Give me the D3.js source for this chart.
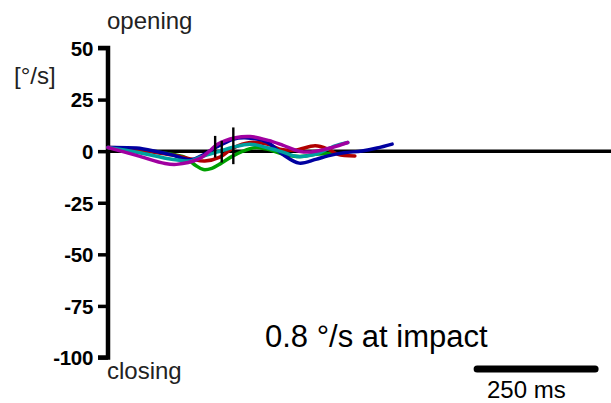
<!DOCTYPE html>
<html><head><meta charset="utf-8">
<script src="https://cdn.jsdelivr.net/npm/d3@7"></script>
<style>body{margin:0;background:#fff}svg{display:block}text{font-family:"Liberation Sans",Arial,sans-serif}</style>
</head><body><svg id="c" width="611" height="403"></svg>
<script>
// time (ms) and angular velocity (°/s) per trial
const seriesNames = ["green","red","blue","cyan","purple"];
const seriesColors = ["#00a000","#b00000","#0000a0","#00a0a0","#a000a0"];
const greenT = [0,64,120,163,185,202,220,240,265,301,315,337,371,407,439,481];
const greenV = [1.8,0.5,-1,-3,-6.8,-8.9,-8.3,-5.8,-2.3,1.2,1.8,1,-1.5,-2.6,-1.5,-1];
const redT = [0,60,100,148,178,205,237,265,301,337,364,396,439,466,487,523];
const redV = [1.8,1,-0.6,-2.3,-3.9,-4.8,-2.9,1.5,4.2,3.4,1,0.5,2.6,1,-1.5,-2.3];
const blueT = [0,60,100,135,175,200,230,265,290,337,370,405,440,466,500,538,570,602];
const blueV = [1.8,1.5,0,-1.8,-4.2,-2,2,5.8,6.5,4.4,-1.5,-5.8,-4,-2.3,-0.8,0.1,1.5,3.4];
const cyanT = [0,64,135,175,195,230,265,301,340,371,400,439,481,508];
const cyanV = [1.8,-0.6,-3.9,-4.7,-2.9,-0.5,1.9,3.4,1.5,-0.5,-2.6,-1.5,2.6,4.2];
const purpleT = [0,64,121,145,191,215,232,270,301,340,371,405,430,475,508];
const purpleV = [1.8,-2.3,-6,-6.4,-3.9,0,3.4,6.5,7.1,5.2,2.8,0,-0.4,1.8,4.2];
const seriesT = [greenT,redT,blueT,cyanT,purpleT];
const seriesV = [greenV,redV,blueV,cyanV,purpleV];
// impact markers: time, low value, high value
const markerT = [227,241,265.5];
const markerLo = [-3.1,-5.5,-6.3];
const markerHi = [7.4,5,11.5];
const yTicks = [50,25,0,-25,-50,-75,-100];
const scaleBarMs = 250;
const scaleBarStart = 782;

const svg = d3.select("#c");
const x = d3.scaleLinear().domain([0,1000]).range([108,580]);
const y = d3.scaleLinear().domain([-100,50]).range([357.5,48]);

// y axis
const yAxis = d3.axisLeft(y).tickValues(yTicks).tickSize(10).tickPadding(5).tickFormat(d=>String(d));
const ga = svg.append("g").attr("transform","translate(108,0)").call(yAxis);
ga.select(".domain").attr("stroke","#000").attr("stroke-width",4.5).attr("d","M-10,"+y(50)+"H0V"+y(-100)+"H-10");
ga.selectAll(".tick line").attr("stroke","#000").attr("stroke-width",3.5);
ga.selectAll(".tick text").attr("fill","#000").attr("dy","0.36em").style("font-size","20.5px").style("font-weight","bold").style("letter-spacing","-0.3px").style("font-family","'Liberation Sans',Arial,sans-serif");

// zero line
svg.append("line").attr("x1",x(0)).attr("x2",611).attr("y1",y(0)).attr("y2",y(0)).attr("stroke","#000").attr("stroke-width",3.5);

// curves
const line = d3.line().x(d=>x(d[0])).y(d=>y(d[1])).curve(d3.curveCatmullRom.alpha(0.5));
seriesT.forEach((ts,i)=>{
  const pts = ts.map((t,j)=>[t,seriesV[i][j]]);
  svg.append("path").attr("d",line(pts)).attr("fill","none").attr("stroke",seriesColors[i]).attr("stroke-width",3.5).attr("stroke-linecap","round");
});

// markers
markerT.forEach((t,i)=>{
  svg.append("line").attr("x1",x(t)).attr("x2",x(t)).attr("y1",y(markerHi[i])).attr("y2",y(markerLo[i])).attr("stroke","#000").attr("stroke-width",2.4);
});

// texts
svg.append("text").attr("x",107).attr("y",29).style("font-size","24px").attr("fill","#222").text("opening");
svg.append("text").attr("x",107).attr("y",379).style("font-size","24px").attr("fill","#222").text("closing");
svg.append("text").attr("x",14).attr("y",84).style("font-size","24px").attr("fill","#222").text("[°/s]");
svg.append("text").attr("x",265).attr("y",347).style("font-size","31px").attr("fill","#000").text("0.8 °/s at impact");

// scale bar
svg.append("line").attr("x1",x(scaleBarStart)).attr("x2",x(scaleBarStart+scaleBarMs)).attr("y1",369).attr("y2",369).attr("stroke","#000").attr("stroke-width",7).attr("stroke-linecap","round");
svg.append("text").attr("x",487).attr("y",398).style("font-size","24px").attr("fill","#000").text("250 ms");
</script></body></html>
